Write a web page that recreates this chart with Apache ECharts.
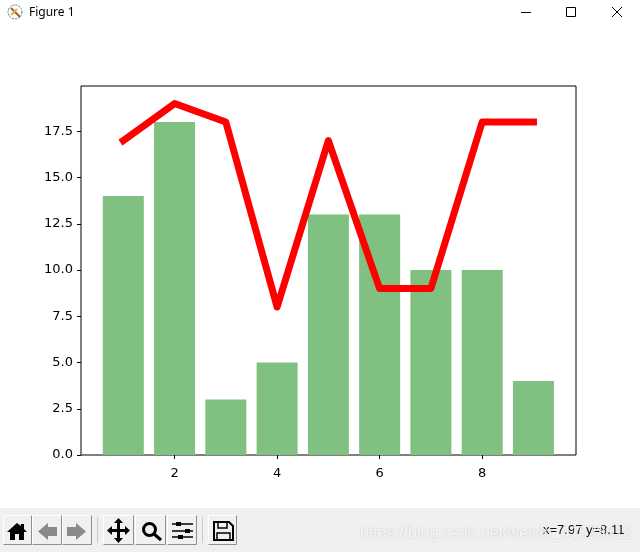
<!DOCTYPE html>
<html>
<head>
<meta charset="utf-8">
<style>
  html, body { margin: 0; padding: 0; background: #fff; }
  #chart { width: 640px; height: 552px; }
</style>
<script src="https://cdn.jsdelivr.net/npm/echarts@6/dist/echarts.min.js"></script>
</head>
<body>
<div id="chart"></div>
<script>
var xValues = [1, 2, 3, 4, 5, 6, 7, 8, 9]
var barValues = [14, 18, 3, 5, 13, 13, 10, 10, 4]
var lineValues = [17, 19, 18, 8, 17, 9, 9, 18, 18]
var xTicks = [2, 4, 6, 8]
var yTicks = [0, 2.5, 5, 7.5, 10, 12.5, 15, 17.5]

var tickFont = { color: '#000', fontFamily: 'DejaVu Sans', fontSize: 13 }

// toolbar button: flat box, light top/left edge, dark bottom/right edge
function button(x, w) {
  var r = x + w - 0.5, b = 544.5
  return [
    { type: 'polyline', shape: { points: [[x + 0.5, b], [x + 0.5, 515.5], [r, 515.5]] }, style: { fill: 'none', stroke: '#fff', lineWidth: 1 } },
    { type: 'polyline', shape: { points: [[x + 0.5, b], [r, b], [r, 515.5]] }, style: { fill: 'none', stroke: '#8f8f8f', lineWidth: 1 } }
  ]
}

var chrome = [
  // title bar
  { type: 'circle', shape: { cx: 15, cy: 12, r: 7 }, style: { fill: 'none', stroke: '#5a7f95', lineWidth: 1, lineDash: [2, 1] } },
  { type: 'line', shape: { x1: 11, y1: 8, x2: 20, y2: 17 }, style: { stroke: '#a05a30', lineWidth: 2 } },
  { type: 'line', shape: { x1: 11, y1: 15, x2: 17, y2: 9 }, style: { stroke: '#e8b040', lineWidth: 2 } },
  { type: 'text', style: { x: 29, y: 13, text: 'Figure 1', fill: '#000', font: '12px "Noto Sans"', textVerticalAlign: 'middle' } },
  { type: 'line', shape: { x1: 521, y1: 12.5, x2: 531, y2: 12.5 }, style: { stroke: '#000', lineWidth: 1 } },
  { type: 'rect', shape: { x: 566.5, y: 7.5, width: 9, height: 9 }, style: { fill: 'none', stroke: '#000', lineWidth: 1 } },
  { type: 'line', shape: { x1: 612, y1: 7, x2: 622, y2: 17 }, style: { stroke: '#000', lineWidth: 1 } },
  { type: 'line', shape: { x1: 622, y1: 7, x2: 612, y2: 17 }, style: { stroke: '#000', lineWidth: 1 } },

  // toolbar background
  { type: 'rect', shape: { x: 0, y: 508, width: 640, height: 44 }, style: { fill: '#f0f0f0' } }
]
chrome = chrome.concat(button(3, 29), button(32, 30), button(62, 30), button(103, 31), button(135, 31), button(167, 30), button(208, 29))
chrome = chrome.concat([
  { type: 'line', shape: { x1: 97.5, y1: 517, x2: 97.5, y2: 543 }, style: { stroke: '#c8c8c8', lineWidth: 1 } },
  { type: 'line', shape: { x1: 202.5, y1: 517, x2: 202.5, y2: 543 }, style: { stroke: '#c8c8c8', lineWidth: 1 } },

  // home
  { type: 'polygon', shape: { points: [[7, 532], [17, 523], [21, 526], [21, 524], [24, 524], [24, 529], [27, 532], [24, 532], [24, 540], [19, 540], [19, 534], [15, 534], [15, 540], [10, 540], [10, 532]] }, style: { fill: '#000' } },
  // back, forward (dithered in the reference)
  { type: 'polygon', shape: { points: [[38, 531.5], [48, 523], [48, 527], [57, 527], [57, 536], [48, 536], [48, 540]] }, style: { fill: '#8a8a8a' } },
  { type: 'polygon', shape: { points: [[86, 531.5], [76, 523], [76, 527], [67, 527], [67, 536], [76, 536], [76, 540]] }, style: { fill: '#8a8a8a' } },
  // pan
  { type: 'line', shape: { x1: 110, y1: 530.5, x2: 128, y2: 530.5 }, style: { stroke: '#000', lineWidth: 3 } },
  { type: 'line', shape: { x1: 118.5, y1: 521, x2: 118.5, y2: 539 }, style: { stroke: '#000', lineWidth: 3 } },
  { type: 'polygon', shape: { points: [[118.5, 518], [114, 523], [123, 523]] }, style: { fill: '#000' } },
  { type: 'polygon', shape: { points: [[118.5, 543], [114, 538], [123, 538]] }, style: { fill: '#000' } },
  { type: 'polygon', shape: { points: [[107, 530.5], [112, 526], [112, 535]] }, style: { fill: '#000' } },
  { type: 'polygon', shape: { points: [[130, 530.5], [125, 526], [125, 535]] }, style: { fill: '#000' } },
  // zoom
  { type: 'circle', shape: { cx: 149.5, cy: 529.5, r: 6 }, style: { fill: 'none', stroke: '#000', lineWidth: 3 } },
  { type: 'line', shape: { x1: 154, y1: 534, x2: 161, y2: 540 }, style: { stroke: '#000', lineWidth: 3 } },
  // configure
  { type: 'line', shape: { x1: 172, y1: 524, x2: 193, y2: 524 }, style: { stroke: '#000', lineWidth: 1.5 } },
  { type: 'line', shape: { x1: 172, y1: 531, x2: 193, y2: 531 }, style: { stroke: '#000', lineWidth: 1.5 } },
  { type: 'line', shape: { x1: 172, y1: 537, x2: 193, y2: 537 }, style: { stroke: '#000', lineWidth: 1.5 } },
  { type: 'rect', shape: { x: 176, y: 522, width: 5, height: 4 }, style: { fill: '#000' } },
  { type: 'rect', shape: { x: 185, y: 529, width: 5, height: 4 }, style: { fill: '#000' } },
  { type: 'rect', shape: { x: 178, y: 535, width: 5, height: 4 }, style: { fill: '#000' } },
  // save
  { type: 'polygon', shape: { points: [[214, 522], [229, 522], [233, 526], [233, 540], [214, 540]] }, style: { fill: 'none', stroke: '#000', lineWidth: 2 } },
  { type: 'rect', shape: { x: 218, y: 522, width: 9, height: 6 }, style: { fill: 'none', stroke: '#000', lineWidth: 1.5 } },
  { type: 'rect', shape: { x: 217, y: 533, width: 13, height: 7 }, style: { fill: 'none', stroke: '#000', lineWidth: 1.5 } },

  // status text and image watermark
  { type: 'text', style: { x: 543, y: 530, text: 'x=7.97 y=8.11', fill: '#111', font: '13px "Liberation Sans"', textVerticalAlign: 'middle' } },
  { type: 'text', z: 10, style: { x: 360, y: 534, text: 'https://blog.csdn.net/weixin_41523012', fill: 'rgba(255,255,255,0.8)', font: '16px "Liberation Sans"', textVerticalAlign: 'middle', textShadowColor: 'rgba(0,0,0,0.25)', textShadowBlur: 2 } }
])

var myChart = echarts.init(document.querySelector('#chart'), null, { renderer: 'canvas' })
var option = {
  animation: false,
  backgroundColor: '#fff',
  grid: {
    left: 81,
    top: 86,
    width: 495,
    height: 369,
    show: true,
    borderColor: '#000',
    borderWidth: 1,
    backgroundColor: 'transparent'
  },
  xAxis: {
    type: 'value',
    min: 0.175,
    max: 9.83,
    splitLine: { show: false },
    axisLine: { show: false },
    axisTick: { show: true, customValues: xTicks, length: 4, lineStyle: { color: '#000' } },
    axisLabel: { show: true, customValues: xTicks, margin: 12, ...tickFont }
  },
  yAxis: {
    type: 'value',
    min: 0,
    max: 19.95,
    splitLine: { show: false },
    axisLine: { show: false },
    axisTick: { show: true, customValues: yTicks, length: 4, lineStyle: { color: '#000' } },
    axisLabel: {
      show: true,
      customValues: yTicks,
      margin: 8,
      padding: [4, 0, 0, 0],
      formatter: function (v) { return Number(v).toFixed(1) },
      ...tickFont
    }
  },
  series: [
    {
      type: 'bar',
      data: xValues.map((x, i) => [x, barValues[i]]),
      barWidth: 41,
      itemStyle: { color: '#80c080' }
    },
    {
      type: 'line',
      data: xValues.map((x, i) => [x, lineValues[i]]),
      showSymbol: false,
      lineStyle: { color: '#ff0000', width: 7, join: 'round', cap: 'square' }
    }
  ],
  graphic: { elements: chrome }
}
myChart.setOption(option)
</script>
</body>
</html>
